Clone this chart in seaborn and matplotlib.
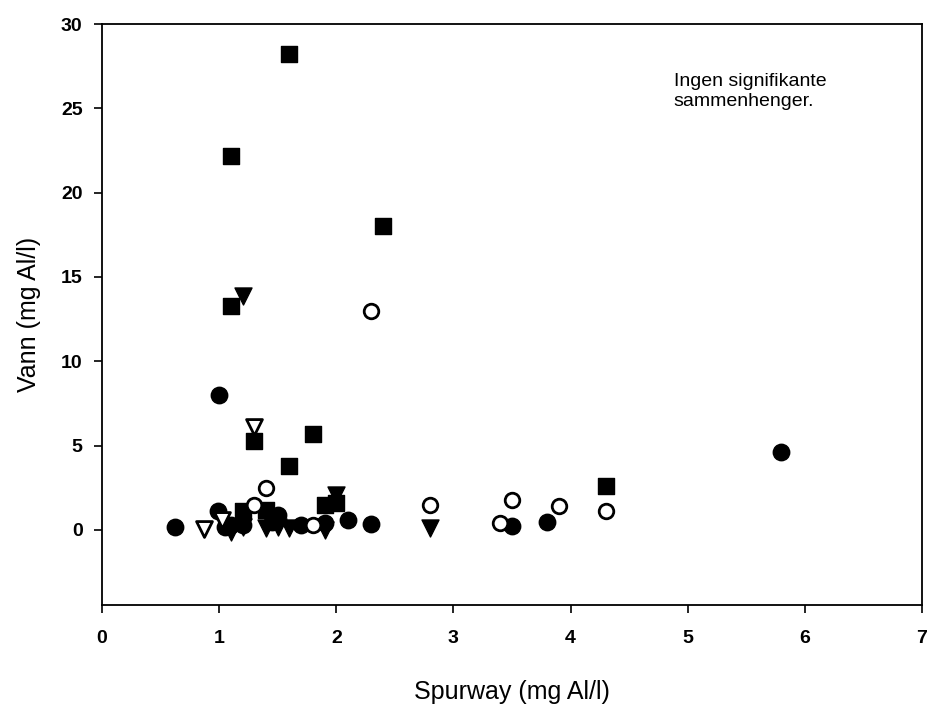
import matplotlib
matplotlib.use("Agg")
import matplotlib.pyplot as plt
import seaborn as sns
import pandas as pd

# Filled squares
sq_x = [1.6, 1.1, 2.4, 1.1, 1.3, 1.8, 1.6, 4.3, 1.2, 1.9, 2.0, 1.4]
sq_y = [28.2, 22.2, 18.0, 13.3, 5.3, 5.7, 3.8, 2.6, 1.1, 1.5, 1.6, 1.2]
# Filled downward triangles
tri_x = [1.2, 2.0, 2.8, 1.1, 1.4, 1.9, 1.6, 1.2, 1.5]
tri_y = [13.9, 2.1, 0.1, -0.1, 0.1, 0.0, 0.1, 0.2, 0.2]
# Open downward triangles
otri_x = [1.3, 0.87, 1.02]
otri_y = [6.1, 0.05, 0.6]
# Filled circles
circ_x = [1.0, 5.8, 0.62, 0.99, 1.1, 1.5, 1.7, 1.9, 2.1, 2.3, 3.5, 3.8, 1.2, 1.45, 1.05]
circ_y = [8.0, 4.6, 0.15, 1.1, 0.3, 0.9, 0.3, 0.4, 0.6, 0.35, 0.25, 0.45, 0.3, 0.5, 0.2]
# Open circles
ocirc_x = [2.3, 1.4, 1.3, 1.8, 2.8, 3.5, 3.4, 3.9, 4.3]
ocirc_y = [13.0, 2.5, 1.5, 0.3, 1.5, 1.8, 0.4, 1.4, 1.1]

sns.set_style("white")
plt.rcParams['font.family'] = ['Liberation Sans', 'DejaVu Sans']
plt.rcParams['text.color'] = 'black'
plt.rcParams['axes.labelcolor'] = 'black'
plt.rcParams['xtick.color'] = 'black'
plt.rcParams['ytick.color'] = 'black'

fig = plt.figure(figsize=(9.3, 7.04), dpi=100)
ax = fig.add_axes([0.1097, 0.1406, 0.8817, 0.8253])

def df(x, y):
    return pd.DataFrame({"x": x, "y": y})

sns.scatterplot(data=df(circ_x, circ_y), x="x", y="y", ax=ax, marker="o", s=140,
                color="black", edgecolor="black", linewidth=1, zorder=3)
sns.scatterplot(data=df(ocirc_x, ocirc_y), x="x", y="y", ax=ax, marker="o", s=110,
                facecolor="white", edgecolor="black", linewidth=2, zorder=4)
sns.scatterplot(data=df(sq_x, sq_y), x="x", y="y", ax=ax, marker="s", s=130,
                color="black", edgecolor="black", linewidth=1, zorder=3)
sns.scatterplot(data=df(tri_x, tri_y), x="x", y="y", ax=ax, marker="v", s=150,
                color="black", edgecolor="black", linewidth=1, zorder=3)
sns.scatterplot(data=df(otri_x, otri_y), x="x", y="y", ax=ax, marker="v", s=130,
                facecolor="white", edgecolor="black", linewidth=2, zorder=4)

ax.set_xlim(0, 7)
ax.set_ylim(-4.45, 30)
ax.set_xticks(range(0, 8))
ax.set_yticks([0, 5, 10, 15, 20, 25, 30])
ax.tick_params(direction="out", length=6, width=1.2, labelsize=14, bottom=True, left=True,
               colors="black")
ax.tick_params(axis="x", pad=12)
ax.tick_params(axis="y", pad=8)
for lab in ax.get_xticklabels() + ax.get_yticklabels():
    lab.set_fontweight("bold")
for sp in ax.spines.values():
    sp.set_color("black")
    sp.set_linewidth(1.3)

ax.set_xlabel("Spurway (mg Al/l)", fontsize=18, labelpad=24, color="black")
ax.set_ylabel("Vann (mg Al/l)", fontsize=18, labelpad=14, color="black")

ax.text(4.88, 26.0, "Ingen signifikante\nsammenhenger.", fontsize=14, color="black",
        ha="left", va="center", linespacing=1.2)

fig.savefig("out.png", dpi=100)
